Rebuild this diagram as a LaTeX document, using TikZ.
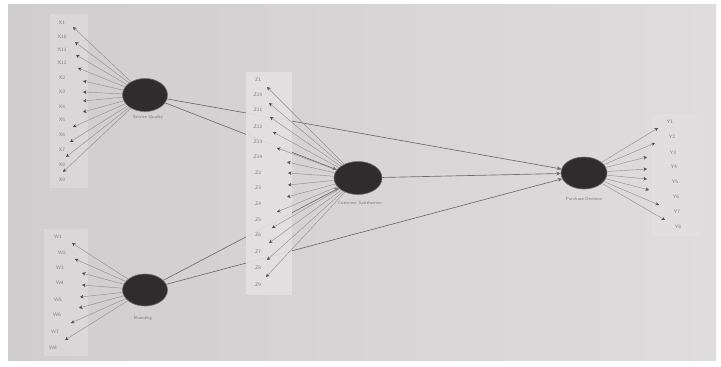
\documentclass[tikz,border=0pt]{standalone}
\usetikzlibrary{arrows.meta,shapes.geometric}
\definecolor{cbgl}{HTML}{CFCDCD}
\definecolor{cbgr}{HTML}{DEDCDC}
\definecolor{cbox}{HTML}{E3E1E1}
\definecolor{clv}{HTML}{2E2C2C}
\definecolor{cline}{HTML}{929090}
\definecolor{ctxt}{HTML}{7C7A7A}

\begin{document}
\begin{tikzpicture}[x=1pt, y=-1pt,
  lv/.style={ellipse, fill=clv, draw=clv!70, line width=0.6pt, inner sep=0pt},
  lvname/.style={font=\sffamily\fontsize{4.5}{5}\selectfont, text=ctxt},
  ind/.style={font=\sffamily\fontsize{5}{6}\selectfont, text=ctxt, inner sep=0.5pt},
  load/.style={-{Stealth[length=3.5pt, width=3.5pt, color=clv!85]}, line width=0.45pt, cline},
  spath/.style={-{Stealth[length=4.5pt, width=4pt]}, line width=0.65pt, cline!75!black}
]
% paper
\fill[white] (0,0) rectangle (721,367);
\shade[left color=cbgl, right color=cbgr] (8,4) rectangle (716,360);

% latent variables
\node[lv, minimum width=45, minimum height=33] (sq) at (145,95) {};
\node[lv, minimum width=45, minimum height=32] (br) at (145,290) {};
\node[lv, minimum width=48, minimum height=33] (cs) at (358,178) {};
\node[lv, minimum width=46, minimum height=32] (pd) at (584,173) {};
\node[lvname] (sqname) at (148,117) {Service Quality};
\node[lvname] (brname) at (143,318) {Branding};
\node[lvname] (csname) at (360,203) {Customer Satisfaction};
\node[lvname] (pdname) at (584,199) {Purchase Decision};

% structural paths
\draw[spath] (sq) -- (cs);
\draw[spath] (sq) -- (pd);
\draw[spath] (br) -- (cs);
\draw[spath] (br) -- (pd);
\draw[spath] (cs) -- (pd);

% indicator boxes
\fill[cbox, opacity=0.5] (50,14) rectangle (88,188);
\fill[cbox, opacity=0.5] (44,229) rectangle (88,356);
\fill[cbox, opacity=0.9] (246,72) rectangle (292,295);
\fill[cbox, opacity=0.5] (652,114) rectangle (700,236);

% indicators
\foreach \n/\ly/\tx/\ty in {X1/23/73/27, X10/37/75/42, X11/50/76/55, X12/63/78/68,
    X2/78/83/81, X3/92/83/92, X4/107/83/101, X5/120/83/112, X6/135/73/127,
    X7/150/70/142, X8/165/66/157, X9/180/63/172} {
  \node[ind] (\n) at (62,\ly) {\n};
  \coordinate (t\n) at (\tx,\ty);
  \draw[load] (sq) -- (t\n);
}
\foreach \n/\lx/\ly/\tx/\ty in {W1/58/237/72/243, W2/62/253/75/259, W3/60/268/82/273,
    W4/60/283/82/285, W5/58/300/80/297, W6/57/315/79/308, W7/55/332/71/323,
    W8/53/348/65/340} {
  \node[ind] (\n) at (\lx,\ly) {\n};
  \coordinate (t\n) at (\tx,\ty);
  \draw[load] (br) -- (t\n);
}
\foreach \n/\ly/\tx/\ty in {Z1/80/267/87, Z10/95/269/103, Z11/110/270/117,
    Z12/127/273/132, Z13/142/277/148, Z14/157/287/162, Z2/173/288/173,
    Z3/188/288/185, Z4/204/287/197, Z5/220/277/212, Z6/235/272/228,
    Z7/252/269/243, Z8/268/267/260, Z9/285/266/277} {
  \node[ind] (\n) at (258,\ly) {\n};
  \coordinate (t\n) at (\tx,\ty);
  \draw[load] (cs) -- (t\n);
}
\foreach \n/\lx/\ly/\tx/\ty in {Y1/670/122/658/128, Y2/672/137/655/143,
    Y3/673/153/647/157, Y4/674/167/647/169, Y5/675/182/647/179,
    Y6/676/197/649/190, Y7/677/212/659/205, Y8/678/227/665/220} {
  \node[ind] (\n) at (\lx,\ly) {\n};
  \coordinate (t\n) at (\tx,\ty);
  \draw[load] (pd) -- (t\n);
}
\end{tikzpicture}
\end{document}
